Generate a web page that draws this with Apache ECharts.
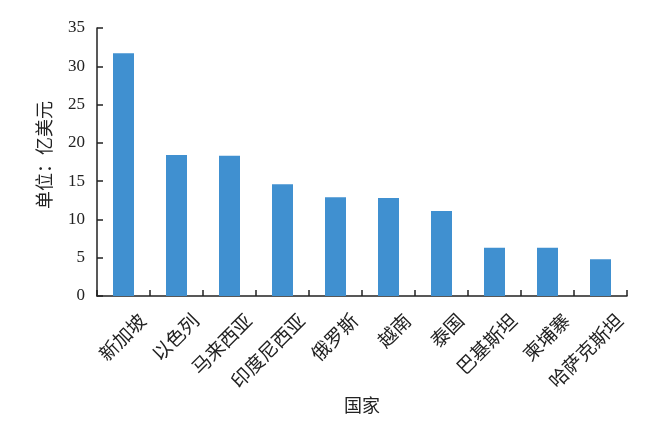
<!DOCTYPE html>
<html><head><meta charset="utf-8">
<script src="https://cdn.jsdelivr.net/npm/echarts@6/dist/echarts.min.js"></script>
<style>html,body{margin:0;padding:0;background:#fff}#c{width:650px;height:430px}</style>
</head><body><div id="c"></div>
<script>
var categories = ['新加坡','以色列','马来西亚','印度尼西亚','俄罗斯','越南','泰国','巴基斯坦','柬埔寨','哈萨克斯坦'];
var values = [31.7, 18.4, 18.3, 14.6, 12.9, 12.8, 11.1, 6.3, 6.3, 4.8];
var yTicks = [0, 5, 10, 15, 20, 25, 30, 35];
var xName = '国家';
var yName = '单位：亿美元';

var FONT = '"Liberation Serif", "Noto Sans CJK SC", serif';
var chart = echarts.init(document.getElementById('c'), null, {renderer: 'canvas'});
chart.setOption({
  animation: false,
  backgroundColor: '#fff',
  grid: {left: 97, right: 23, top: 28, bottom: 134, containLabel: false, outerBoundsMode: 'none'},
  xAxis: {
    type: 'category',
    data: categories,
    name: xName,
    nameLocation: 'middle',
    nameGap: 102,
    nameMoveOverlap: false,
    nameTextStyle: {fontFamily: FONT, fontSize: 18, color: '#222'},
    axisLine: {lineStyle: {color: '#222', width: 1.5}},
    axisTick: {show: true, inside: true, length: 6, alignWithLabel: false, lineStyle: {color: '#222', width: 1.5}},
    axisLabel: {rotate: 45, interval: 0, margin: 2, verticalAlign: 'top', lineHeight: 58, fontFamily: FONT, fontSize: 19, color: '#222'}
  },
  yAxis: {
    type: 'value',
    min: yTicks[0],
    max: yTicks[yTicks.length - 1],
    interval: yTicks[1] - yTicks[0],
    name: yName,
    nameLocation: 'middle',
    nameGap: 42,
    nameMoveOverlap: false,
    nameTextStyle: {fontFamily: FONT, fontSize: 18, color: '#222', padding: [0, 0, 0, 14]},
    axisLine: {show: true, lineStyle: {color: '#222', width: 1.5}},
    axisTick: {show: true, inside: true, length: 6, lineStyle: {color: '#222', width: 1.5}},
    axisLabel: {margin: 12, fontFamily: FONT, fontSize: 17, color: '#222'},
    splitLine: {show: false}
  },
  series: [{
    type: 'bar',
    data: values,
    barWidth: 21,
    itemStyle: {color: '#4090d0'}
  }]
});
</script></body></html>
